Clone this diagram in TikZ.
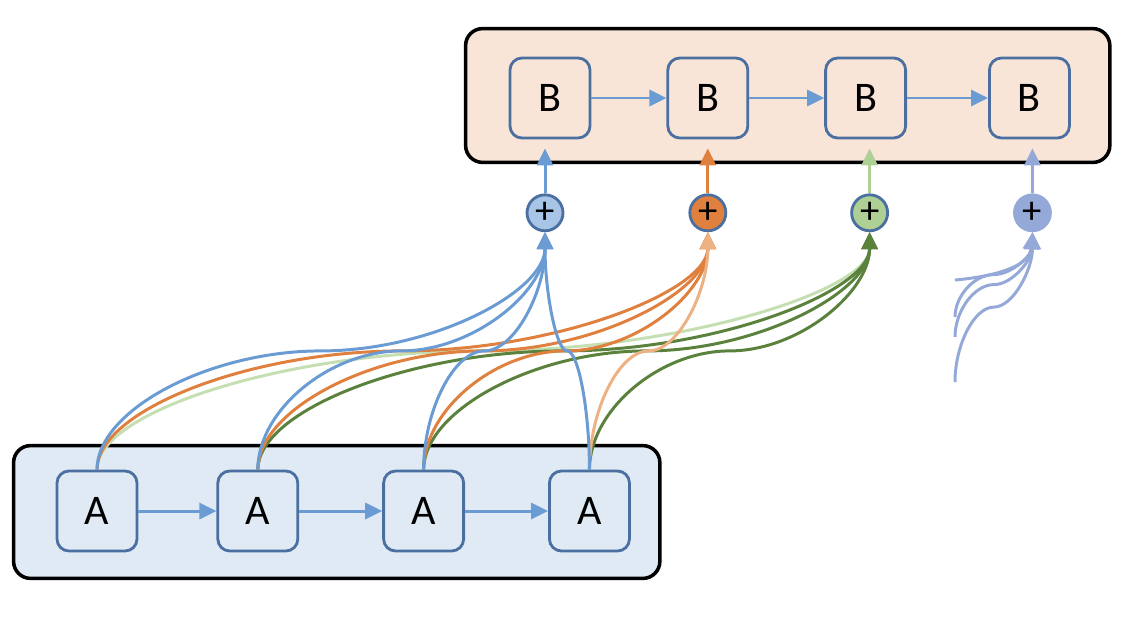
\documentclass[tikz,border=0pt]{standalone}
\usepackage{fontspec}
\setmainfont{Carlito}
\usepackage{tikz}
\usetikzlibrary{positioning, arrows.meta, calc, backgrounds}

\definecolor{cellborder}{HTML}{4A6FA0}
\definecolor{upfill}{HTML}{F8E5D7}
\definecolor{lowfill}{HTML}{DFEAF5}
\definecolor{flowblue}{HTML}{6A9BD3}
\definecolor{floworange}{HTML}{E0803E}
\definecolor{flowpeach}{HTML}{EDB283}
\definecolor{flowpale}{HTML}{C5DEB2}
\definecolor{flowgreen}{HTML}{5B823D}
\definecolor{flowlime}{HTML}{AED094}
\definecolor{flowperi}{HTML}{95A9D9}
\definecolor{sumblue}{HTML}{A8C4E6}

\begin{document}
\begin{tikzpicture}[
    cell/.style={draw=cellborder, line width=1.6pt, rounded corners=0.24cm, minimum width=1.6cm, minimum height=1.6cm, inner sep=0pt, font=\fontsize{24}{24}\selectfont},
    acell/.style={cell, fill=lowfill},
    bcell/.style={cell, fill=upfill},
    panel/.style={draw=black, line width=2pt, rounded corners=0.34cm},
    sum/.style={circle, draw=cellborder, line width=1.6pt, minimum size=0.72cm, inner sep=0pt, font=\fontsize{22}{22}\selectfont},
    arrow/.style={-{Triangle[length=0.34cm,width=0.32cm]}, line width=1.7pt},
    link/.style={arrow, to path={
        let \p1=(\tikztostart), \p2=(\tikztotarget), \p3=($(\p1)!0.5!(\p2)$) in
        .. controls (\x1, {(\y1+\y3)/2}) and ({(\x1+\x3)/2}, \y3) .. (\p3)
        .. controls ({(\x3+\x2)/2}, \y3) and (\x2, {(\y3+\y2)/2}) .. (\tikztotarget)}},
]
\useasboundingbox (0,0) rectangle (22.64,-12.64);

% Lower chain
\node[acell] (a1) at (1.94,-10.22) {A};
\node[acell, right=1.56cm of a1] (a2) {A};
\node[acell, right=1.66cm of a2] (a3) {A};
\node[acell, right=1.66cm of a3] (a4) {A};

% Upper chain
\node[bcell] (b1) at (11.0,-1.96) {B};
\node[bcell, right=1.5cm of b1] (b2) {B};
\node[bcell, right=1.5cm of b2] (b3) {B};
\node[bcell, right=1.62cm of b3] (b4) {B};

% Sums
\node[sum, fill=sumblue, below=1.08cm of b1, xshift=-0.1cm] (s1) {+};
\node[sum, fill=floworange, below=1.08cm of b2] (s2) {+};
\node[sum, fill=flowlime, below=1.08cm of b3, xshift=0.08cm] (s3) {+};
\node[sum, fill=flowperi, draw=flowperi, below=1.08cm of b4, xshift=0.06cm] (s4) {+};

% Panels
\begin{scope}[on background layer]
\draw[panel, fill=upfill] ($(b1.north west)+(-0.86,0.56)$) rectangle ($(b4.south east)+(0.78,-0.46)$);
\draw[panel, fill=lowfill] ($(a1.north west)+(-0.84,0.48)$) rectangle ($(a4.south east)+(0.58,-0.52)$);
\end{scope}

% Chain arrows
\draw[arrow, color=flowblue] (a1) -- (a2);
\draw[arrow, color=flowblue] (a2) -- (a3);
\draw[arrow, color=flowblue] (a3) -- (a4);
\draw[arrow, color=flowblue] (b1) -- (b2);
\draw[arrow, color=flowblue] (b2) -- (b3);
\draw[arrow, color=flowblue] (b3) -- (b4);

% Sums into upper chain
\coordinate (t1) at ($(s1 |- b1.south)+(0,-0.18)$);
\coordinate (t2) at ($(s2 |- b2.south)+(0,-0.18)$);
\coordinate (t3) at ($(s3 |- b3.south)+(0,-0.18)$);
\coordinate (t4) at ($(s4 |- b4.south)+(0,-0.18)$);
\draw[arrow, color=flowblue] (s1) -- (t1);
\draw[arrow, color=floworange] (s2) -- (t2);
\draw[arrow, color=flowlime] (s3) -- (t3);
\draw[arrow, color=flowperi] (s4) -- (t4);

% Lower chain into sums
\draw[link, color=flowpale] (a1.north) to (s3.south);
\foreach \a in {a2,a3,a4}
  \draw[link, color=flowgreen] (\a.north) to (s3.south);
\foreach \a in {a1,a2,a3}
  \draw[link, color=floworange] (\a.north) to (s2.south);
\draw[link, color=flowpeach] (a4.north) to (s2.south);
\foreach \a in {a1,a2,a3,a4}
  \draw[link, color=flowblue] (\a.north) to (s1.south);

% Inputs of the last sum
\coordinate (r1) at (19.1,-5.6);
\coordinate (r2) at (19.1,-6.34);
\coordinate (r3) at (19.1,-6.74);
\coordinate (r4) at (19.1,-7.64);
\draw[arrow, color=flowperi, out=5, in=-95] (r1) to (s4.south);
\foreach \r in {r2,r3,r4}
  \draw[link, color=flowperi] (\r) to (s4.south);

\end{tikzpicture}
\end{document}
